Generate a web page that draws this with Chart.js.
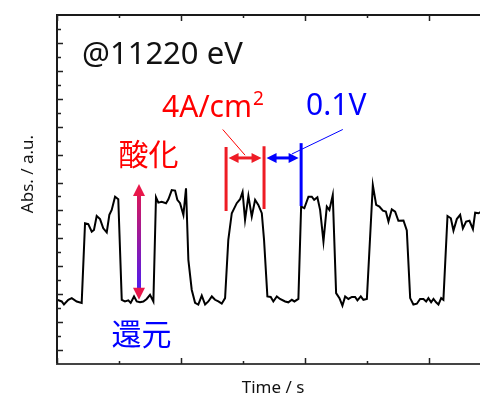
<!DOCTYPE html>
<html>
<head>
<meta charset="utf-8">
<script src="https://cdn.jsdelivr.net/npm/chart.js@4.4.1/dist/chart.umd.min.js"></script>
<style>
  html, body { margin: 0; padding: 0; background: #fff; }
  canvas { display: block; }
</style>
</head>
<body>
<canvas id="chart" width="480" height="394"></canvas>
<script>
// Absorbance at 11220 eV while the cell is switched between oxidation and reduction
const timeS = [
  0, 3.8, 5.6, 9.1, 11.9, 15.9, 19.9, 22.6, 25.2, 28.0, 29.8, 32.0, 34.7, 37.3, 40.1, 42.2,
  44.1, 46.8, 49.4, 52.2, 54.8, 57.5, 59.4, 62.1, 64.3, 66.9, 69.6, 72.3, 75.0, 77.7, 79.8,
  81.7, 84.4, 87.9, 89.8, 92.5, 95.2, 97.0, 99.2, 101.9, 104.0, 105.9, 108.6, 111.3, 113.9,
  116.7, 119.4, 122.0, 124.8, 127.4, 130.1, 132.8, 135.5, 138.1, 140.9, 144.9, 147.6, 149.6,
  151.6, 154.3, 157.0, 159.7, 162.3, 165.1, 166.9, 169.6, 172.3, 174.4, 177.2, 179.8, 183.9,
  186.5, 189.3, 191.4, 194.6, 196.8, 199.4, 202.7, 205.4, 207.3, 209.9, 212.1, 214.8, 217.5,
  219.6, 222.3, 225.0, 227.7, 230.1, 232.3, 234.9, 237.7, 240.3, 242.2, 244.9, 247.0, 249.8,
  254.6, 257.3, 259.9, 262.7, 265.1, 267.2, 269.9, 272.6, 275.2, 279.3, 282.0, 284.7, 287.3,
  290.1, 292.7, 295.4, 297.6, 299.4, 301.6, 303.5, 305.6, 307.5, 309.7, 311.5, 314.8, 317.5,
  319.6, 322.3, 325.0, 327.2, 329.8, 332.5, 335.3, 337.1, 339.8, 342.0
];
const absorbance = [
  2.80, 2.74, 2.63, 2.80, 2.86, 2.74, 2.69, 5.54, 5.51, 5.24, 5.30, 5.80, 5.69, 5.36, 5.21, 5.84,
  6.02, 6.49, 6.40, 2.80, 2.74, 2.78, 2.69, 2.92, 2.74, 2.71, 2.74, 2.83, 2.98, 2.74, 6.47,
  6.28, 6.31, 6.26, 6.40, 6.73, 6.71, 6.38, 6.26, 5.84, 6.79, 4.23, 3.16, 2.69, 2.63,
  2.95, 2.63, 2.74, 2.92, 2.80, 2.74, 2.66, 2.86, 4.95, 5.90, 6.26, 6.40, 6.66,
  5.66, 6.52, 5.78, 6.38, 6.20, 5.90, 4.95, 2.92, 2.90, 2.74, 2.92, 2.83, 2.74,
  2.71, 2.80, 2.74, 2.83, 6.14, 6.08, 6.49, 6.49, 6.38, 6.47, 6.02, 4.89, 6.14,
  6.02, 6.55, 3.04, 2.86, 2.59, 2.92, 2.83, 2.90, 2.90, 2.78, 2.92, 2.80, 2.83,
  6.91, 6.20, 6.14, 5.99, 5.96, 5.60, 6.04, 5.96, 5.63, 5.64, 5.28, 2.86, 2.63,
  2.66, 2.83, 2.83, 2.74, 2.86, 2.71, 2.83, 2.71, 2.63, 2.86, 2.80, 5.80, 5.72,
  5.28, 5.69, 5.84, 5.36, 5.60, 5.63, 5.33, 5.92, 5.90, 5.96
];

// Tick positions (no tick labels are drawn)
const xMajorTicks = [0, 100, 200, 300];
const xMinorTicks = [50, 150, 250];
const yMajorTicks = [1, 2, 3, 4, 5, 6, 7, 8, 9, 10, 11, 12];
const yMinorTicks = [1.5, 2.5, 3.5, 4.5, 5.5, 6.5, 7.5, 8.5, 9.5, 10.5, 11.5, 12.5];

// Step markers: current-step (4A/cm2) and potential-hold (0.1V) intervals
const stepStartS = 136.3;
const currentEndS = 166.9;
const potentialEndS = 196.8;
const bracketLevel = 7.88;

const RED = '#ff0000';
const BLUE = '#0000ff';
const LATIN = '"Noto Sans", "Open Sans", sans-serif';
const CJK = '"Noto Sans CJK JP", "Noto Sans", sans-serif';

function arrowHead(ctx, x, y, angle, len, half) {
  ctx.save();
  ctx.translate(x, y);
  ctx.rotate(angle);
  ctx.beginPath();
  ctx.moveTo(0, 0);
  ctx.lineTo(-len, -half);
  ctx.lineTo(-len, half);
  ctx.closePath();
  ctx.fill();
  ctx.restore();
}

function hDoubleArrow(ctx, x1, x2, y, color) {
  ctx.save();
  ctx.strokeStyle = color;
  ctx.fillStyle = color;
  ctx.lineWidth = 3;
  ctx.beginPath();
  ctx.moveTo(x1 + 6, y);
  ctx.lineTo(x2 - 6, y);
  ctx.stroke();
  arrowHead(ctx, x1 + 1, y, Math.PI, 10, 5);
  arrowHead(ctx, x2 - 1, y, 0, 10, 5);
  ctx.restore();
}

const frame = {
  id: 'frame',
  afterDatasetsDraw(chart) {
    const { ctx, chartArea: a, scales: { x, y } } = chart;
    ctx.save();

    // axes frame: left, bottom and top (right side runs off the canvas)
    ctx.lineWidth = 2;
    ctx.strokeStyle = '#1a1a1a';
    ctx.beginPath();
    ctx.moveTo(a.right, a.top);
    ctx.lineTo(a.left, a.top);
    ctx.lineTo(a.left, a.bottom);
    ctx.stroke();
    ctx.strokeStyle = '#444';
    ctx.beginPath();
    ctx.moveTo(a.left - 1, a.bottom);
    ctx.lineTo(a.right, a.bottom);
    ctx.stroke();

    // inward ticks
    ctx.lineWidth = 1.5;
    ctx.strokeStyle = '#222';
    ctx.beginPath();
    const xt = (v, len) => {
      const px = Math.round(x.getPixelForValue(v)) + 0.5;
      ctx.moveTo(px, a.bottom); ctx.lineTo(px, a.bottom - len);
      ctx.moveTo(px, a.top); ctx.lineTo(px, a.top + len);
    };
    xMajorTicks.forEach(v => xt(v, 6));
    xMinorTicks.forEach(v => xt(v, 3));
    const yt = (v, len) => {
      const py = Math.round(y.getPixelForValue(v)) + 0.5;
      ctx.moveTo(a.left, py); ctx.lineTo(a.left + len, py);
    };
    yMajorTicks.forEach(v => yt(v, 6));
    yMinorTicks.forEach(v => yt(v, 4));
    ctx.stroke();

    // axis titles
    ctx.fillStyle = '#111';
    ctx.font = '17px ' + LATIN;
    ctx.textAlign = 'center';
    ctx.textBaseline = 'alphabetic';
    ctx.fillText('Time / s', 273, 393);
    ctx.save();
    ctx.translate(33, 174);
    ctx.rotate(-Math.PI / 2);
    ctx.fillText('Abs. / a.u.', 0, 0);
    ctx.restore();

    // energy label
    ctx.textAlign = 'left';
    ctx.font = '31px ' + LATIN;
    ctx.fillText('@11220 eV', x.getPixelForValue(20.2), y.getPixelForValue(11.23));

    // oxidation / reduction swing arrow with colour gradient
    const ax = x.getPixelForValue(66.1);
    const aTop = y.getPixelForValue(6.95);
    const aBot = y.getPixelForValue(2.80);
    const grad = ctx.createLinearGradient(0, aTop, 0, aBot);
    grad.addColorStop(0, '#e8174a');
    grad.addColorStop(1, '#3f1cff');
    ctx.strokeStyle = grad;
    ctx.fillStyle = grad;
    ctx.lineWidth = 4;
    ctx.beginPath();
    ctx.moveTo(ax, aTop + 10);
    ctx.lineTo(ax, aBot - 10);
    ctx.stroke();
    arrowHead(ctx, ax, aTop, -Math.PI / 2, 12, 6);
    arrowHead(ctx, ax, aBot, Math.PI / 2, 12, 6);

    ctx.textAlign = 'center';
    ctx.textBaseline = 'middle';
    ctx.font = '30px ' + CJK;
    ctx.fillStyle = RED;
    ctx.fillText('酸化', x.getPixelForValue(73.8), y.getPixelForValue(8.02));
    ctx.fillStyle = BLUE;
    ctx.fillText('還元', x.getPixelForValue(68.1), y.getPixelForValue(1.59));

    // step interval markers
    const xs = x.getPixelForValue(stepStartS);
    const xc = x.getPixelForValue(currentEndS);
    const xp = x.getPixelForValue(potentialEndS);
    const yb = y.getPixelForValue(bracketLevel);
    ctx.lineWidth = 3;
    ctx.strokeStyle = '#ee1c25';
    ctx.beginPath();
    ctx.moveTo(xs, y.getPixelForValue(8.27)); ctx.lineTo(xs, y.getPixelForValue(5.98));
    ctx.moveTo(xc, y.getPixelForValue(8.30)); ctx.lineTo(xc, y.getPixelForValue(6.05));
    ctx.stroke();
    ctx.strokeStyle = BLUE;
    ctx.beginPath();
    ctx.moveTo(xp, y.getPixelForValue(8.41)); ctx.lineTo(xp, y.getPixelForValue(6.16));
    ctx.stroke();
    hDoubleArrow(ctx, xs + 1.5, xc - 1.5, yb, '#ee1c25');
    hDoubleArrow(ctx, xc + 1.5, xp - 1.5, yb, BLUE);

    // leader lines to the labels
    ctx.lineWidth = 1;
    ctx.strokeStyle = RED;
    ctx.beginPath();
    ctx.moveTo(x.getPixelForValue(133.6), y.getPixelForValue(8.90));
    ctx.lineTo(x.getPixelForValue(151.6), y.getPixelForValue(7.98));
    ctx.stroke();
    ctx.strokeStyle = BLUE;
    ctx.beginPath();
    ctx.moveTo(x.getPixelForValue(230.4), y.getPixelForValue(8.90));
    ctx.lineTo(x.getPixelForValue(189.3), y.getPixelForValue(8.02));
    ctx.stroke();

    // step labels
    ctx.textAlign = 'left';
    ctx.textBaseline = 'alphabetic';
    ctx.fillStyle = RED;
    ctx.font = '30px ' + LATIN;
    const lx = x.getPixelForValue(84.7);
    const ly = y.getPixelForValue(9.34);
    ctx.fillText('4A/cm', lx, ly);
    const w = ctx.measureText('4A/cm').width;
    ctx.font = '19px ' + LATIN;
    ctx.fillText('2', lx + w + 1, ly - 12);
    ctx.fillStyle = BLUE;
    ctx.font = '30px ' + LATIN;
    ctx.fillText('0.1V', x.getPixelForValue(200.8), y.getPixelForValue(9.41));

    ctx.restore();
  }
};

new Chart(document.getElementById('chart'), {
  type: 'line',
  data: {
    datasets: [{
      data: timeS.map((t, i) => ({ x: t, y: absorbance[i] })),
      borderColor: '#000',
      borderWidth: 2,
      pointRadius: 0,
      tension: 0,
      fill: false
    }]
  },
  options: {
    responsive: false,
    devicePixelRatio: 1,
    animation: false,
    layout: { padding: { left: 57, top: 15, right: 0, bottom: 30 } },
    plugins: { legend: { display: false }, tooltip: { enabled: false } },
    scales: {
      x: { type: 'linear', min: 0, max: 341, display: false },
      y: { type: 'linear', min: 0.5, max: 13, display: false }
    }
  },
  plugins: [frame]
});
</script>
</body>
</html>
